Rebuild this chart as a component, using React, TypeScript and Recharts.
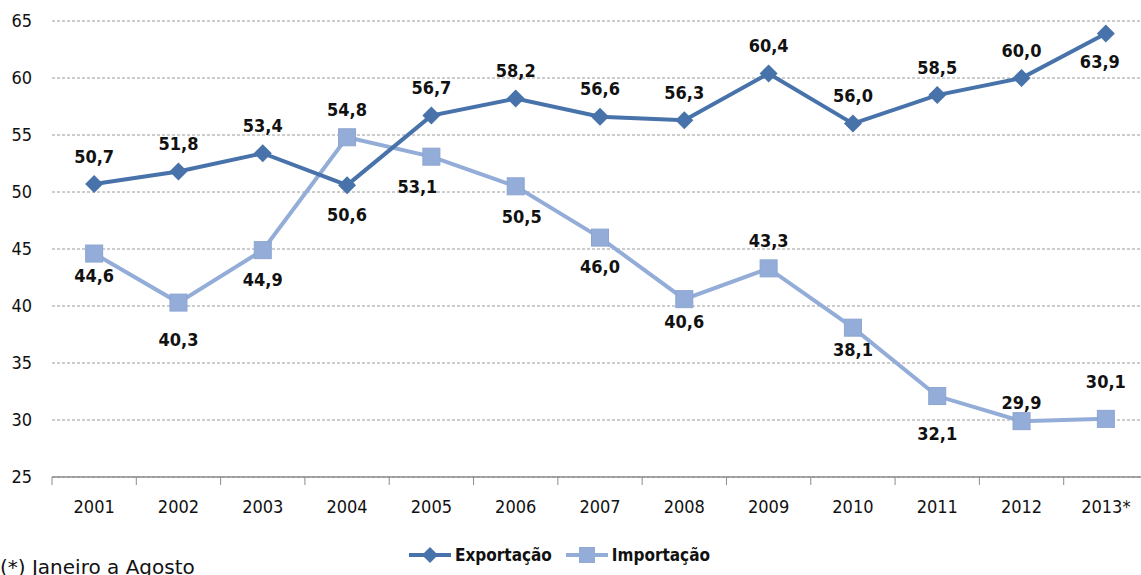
import React from 'react'
import {
  LineChart,
  Line,
  XAxis,
  YAxis,
  CartesianGrid,
  LabelList,
} from 'recharts'

const years = ['2001', '2002', '2003', '2004', '2005', '2006', '2007', '2008', '2009', '2010', '2011', '2012', '2013*']
const exportacao = [50.7, 51.8, 53.4, 50.6, 56.7, 58.2, 56.6, 56.3, 60.4, 56.0, 58.5, 60.0, 63.9]
const importacao = [44.6, 40.3, 44.9, 54.8, 53.1, 50.5, 46.0, 40.6, 43.3, 38.1, 32.1, 29.9, 30.1]
const yTicks = [25, 30, 35, 40, 45, 50, 55, 60, 65]

// where each value label sits relative to its point
const exportLabelPos = ['top', 'top', 'top', 'bottom', 'top', 'top', 'top', 'top', 'top', 'top', 'top', 'top', 'bottomLeftSmall']
const importLabelPos = ['bottomNear', 'bottomFar', 'bottom', 'top', 'bottomLeft', 'bottomRight', 'bottom', 'bottomNear', 'top', 'bottomNear', 'bottomFar', 'topNear', 'topFar']

const data = years.map((year, i) => ({
  year,
  exportacao: exportacao[i],
  importacao: importacao[i],
}))

const FONT = "'DejaVu Sans Condensed', 'DejaVu Sans', sans-serif"
const EXP = '#4872AA'
const IMP = '#94ADD8'
const AXIS = '#8C8C8C'

const W = 1160
const H = 575
const M = { top: 21, right: 12, left: 0, bottom: 0 }
const Y_W = 52
const X_H = 98
const BAND = (W - M.right - M.left - Y_W) / years.length

const OFFSETS: Record<string, [number, number]> = {
  top: [0, -28],
  topNear: [0, -19],
  topFar: [0, -37],
  bottom: [0, 29],
  bottomNear: [0, 22],
  bottomFar: [0, 37],
  bottomLeft: [-14, 30],
  bottomRight: [6, 30],
  bottomLeftSmall: [-6, 28],
}

const fmt = (v: number) => v.toFixed(1).replace('.', ',')

function makeLabel(positions: string[]) {
  return function ValueLabel(props: any) {
    const { x, y, value, index } = props
    const [dx, dy] = OFFSETS[positions[index]] || OFFSETS.top
    return (
      <text
        x={x + dx}
        y={y + dy}
        textAnchor='middle'
        dominantBaseline='central'
        fontFamily={FONT}
        fontWeight='bold'
        fontSize={18}
        fill='#111'
      >
        {fmt(value)}
      </text>
    )
  }
}

function Diamond({ cx, cy }: any) {
  const r = 9
  return (
    <polygon
      points={`${cx},${cy - r} ${cx + r},${cy} ${cx},${cy + r} ${cx - r},${cy}`}
      fill={EXP}
    />
  )
}

function Square({ cx, cy }: any) {
  const s = 17
  return (
    <rect
      x={cx - s / 2}
      y={cy - s / 2}
      width={s}
      height={s}
      fill={IMP}
      stroke='#8CA5D0'
      strokeWidth={1}
    />
  )
}

function YearTick({ x, y, payload, index }: any) {
  return (
    <g>
      <line x1={x - BAND / 2} x2={x - BAND / 2} y1={y} y2={y + 8} stroke={AXIS} />
      {index === years.length - 1 && (
        <line x1={x + BAND / 2} x2={x + BAND / 2} y1={y} y2={y + 8} stroke={AXIS} />
      )}
      <text
        x={x}
        y={y + 29}
        textAnchor='middle'
        dominantBaseline='central'
        fontFamily={FONT}
        fontSize={18}
        fill='#111'
      >
        {payload.value}
      </text>
    </g>
  )
}

function LegendIcon({ kind }: { kind: 'diamond' | 'square' }) {
  return (
    <svg width={44} height={20} style={{ display: 'block' }}>
      <line
        x1={1}
        x2={43}
        y1={10}
        y2={10}
        stroke={kind === 'diamond' ? EXP : IMP}
        strokeWidth={4}
      />
      {kind === 'diamond' ? (
        <polygon points='22,2 30,10 22,18 14,10' fill={EXP} />
      ) : (
        <rect x={14} y={2} width={16} height={16} fill={IMP} />
      )}
    </svg>
  )
}

export default function App() {
  return (
    <div
      style={{
        position: 'fixed',
        left: 0,
        top: 0,
        width: 1141,
        height: 575,
        overflow: 'hidden',
        background: '#fff',
      }}
    >
      <LineChart width={W} height={H} data={data} margin={M}>
        <CartesianGrid
          horizontal
          vertical={false}
          stroke='#9A9A9A'
          strokeDasharray='3 2'
        />
        <XAxis
          dataKey='year'
          height={X_H}
          padding={{ left: BAND / 2, right: BAND / 2 }}
          axisLine={{ stroke: AXIS, strokeWidth: 1.5 }}
          tickLine={false}
          tickSize={0}
          tickMargin={0}
          interval={0}
          tick={<YearTick />}
        />
        <YAxis
          width={Y_W}
          domain={[25, 65]}
          ticks={yTicks}
          axisLine={false}
          tickLine={false}
          tickSize={0}
          tickMargin={20}
          tick={{ fontFamily: FONT, fontSize: 18, fill: '#111' }}
        />
        <Line
          dataKey='importacao'
          stroke={IMP}
          strokeWidth={4}
          dot={<Square />}
          activeDot={false}
          isAnimationActive={false}
        >
          <LabelList dataKey='importacao' content={makeLabel(importLabelPos)} />
        </Line>
        <Line
          dataKey='exportacao'
          stroke={EXP}
          strokeWidth={4}
          dot={<Diamond />}
          activeDot={false}
          isAnimationActive={false}
        >
          <LabelList dataKey='exportacao' content={makeLabel(exportLabelPos)} />
        </Line>
      </LineChart>

      <div
        style={{
          position: 'absolute',
          left: 408,
          top: 545,
          display: 'flex',
          alignItems: 'center',
          fontFamily: FONT,
          fontWeight: 'bold',
          fontSize: 17,
          color: '#111',
        }}
      >
        <LegendIcon kind='diamond' />
        <span style={{ marginLeft: 3, marginRight: 13 }}>Exportação</span>
        <LegendIcon kind='square' />
        <span style={{ marginLeft: 3 }}>Importação</span>
      </div>

      <div
        style={{
          position: 'absolute',
          left: 0,
          top: 555,
          fontFamily: "'DejaVu Sans', sans-serif",
          fontSize: 20,
          lineHeight: '24px',
          color: '#111',
          whiteSpace: 'nowrap',
        }}
      >
        (*) Janeiro a Agosto
      </div>
    </div>
  )
}
